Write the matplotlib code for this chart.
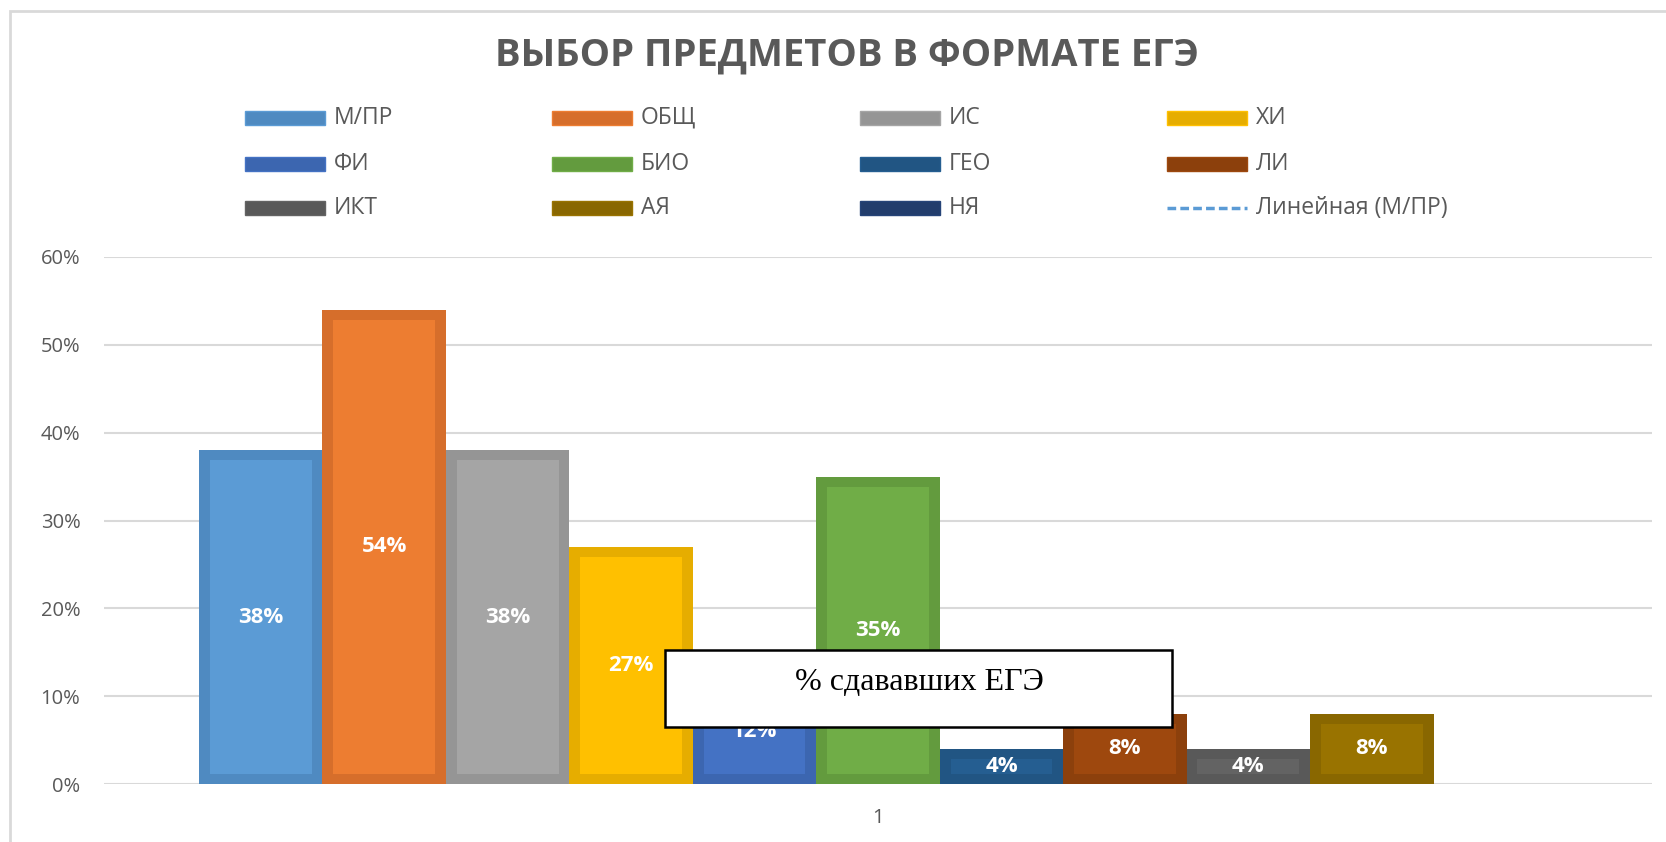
import numpy as np
import matplotlib
matplotlib.use("Agg")
import matplotlib.pyplot as plt
from matplotlib.patches import Rectangle
from matplotlib.lines import Line2D

# данные
subjects = ["М/ПР", "ОБЩ", "ИС", "ХИ", "ФИ", "БИО", "ГЕО", "ЛИ", "ИКТ", "АЯ", "НЯ"]
shares = [0.38, 0.54, 0.38, 0.27, 0.12, 0.35, 0.04, 0.08, 0.04, 0.08, 0.0]
fill_colors = ["#5B9BD5", "#ED7D31", "#A5A5A5", "#FFC000", "#4472C4", "#70AD47",
               "#255E91", "#9E480E", "#636363", "#997300", "#264478"]
edge_colors = ["#4F8AC1", "#D66E2B", "#959595", "#E6AD00", "#3C66B0", "#639B3E",
               "#215583", "#8C400C", "#595959", "#896700", "#223D6C"]
trend_label = "Линейная (М/ПР)"
category = "1"
yticks = [0, 0.1, 0.2, 0.3, 0.4, 0.5, 0.6]

W, H = 1666, 842
fig = plt.figure(figsize=(W / 100, H / 100), dpi=100)
fig.patch.set_facecolor("white")

# рамка диаграммы
fig.add_artist(Rectangle((10 / W, -0.1), 1.2, 1.1 - 11 / H, transform=fig.transFigure,
                         fill=False, edgecolor="#D9D9D9", linewidth=2))

ax = fig.add_axes([104 / W, 1 - 784 / H, (1652 - 104) / W, (784 - 257) / H])
x = np.arange(len(subjects))

bw = 0.088   # толщина рамки столбца (по x)
bh = 0.0115  # толщина рамки столбца (по y)
for i in range(len(subjects)):
    v = shares[i]
    if v <= 0:
        continue
    ax.bar(x[i], v, width=1, color=edge_colors[i], zorder=2)
    ax.bar(x[i], max(v - 2 * bh, 0), width=1 - 2 * bw, bottom=bh,
           color=fill_colors[i], zorder=3)
    ax.text(x[i], v / 2, f"{v:.0%}", ha="center", va="center", color="white",
            fontsize=16, fontweight="bold", family="Open Sans", zorder=4)

ax.set_xlim(5 - 6.27, 5 + 6.27)
ax.set_ylim(0, 0.6)
ax.set_yticks(yticks)
ax.set_yticklabels([f"{t:.0%}" for t in yticks])
ax.set_xticks([x.mean()])
ax.set_xticklabels([category])
ax.tick_params(axis="y", length=0, pad=17, labelsize=14.5, labelcolor="#595959")
ax.tick_params(axis="x", length=0, pad=17, labelsize=14.5, labelcolor="#595959")
for lab in ax.get_xticklabels() + ax.get_yticklabels():
    lab.set_family("Open Sans")
ax.grid(axis="y", color="#D9D9D9", linewidth=1.5, zorder=0)
ax.set_axisbelow(True)
for s in ax.spines.values():
    s.set_visible(False)

# заголовок
fig.text(847 / W, 1 - 56 / H, "ВЫБОР ПРЕДМЕТОВ В ФОРМАТЕ ЕГЭ", ha="center", va="center",
         fontsize=27.5, fontweight="bold", color="#595959", family="Open Sans")

# легенда
col_x = [245, 552, 860, 1167]
row_y = [118, 164, 208]
for i, name in enumerate(subjects + [trend_label]):
    cx = col_x[i % 4]
    cy = row_y[i // 4]
    if i < len(subjects):
        fig.add_artist(Rectangle((cx / W, 1 - (cy + 7) / H), 80 / W, 14 / H,
                                 transform=fig.transFigure, facecolor=edge_colors[i],
                                 edgecolor=fill_colors[i], linewidth=1))
    else:
        fig.add_artist(Line2D([cx / W, (cx + 80) / W], [1 - cy / H, 1 - cy / H],
                              transform=fig.transFigure, color="#5B9BD5",
                              linewidth=2.5, linestyle=(0, (2.5, 1.2))))
    fig.text((cx + 89) / W, 1 - cy / H, name, ha="left", va="center",
             fontsize=16.5, color="#595959", family="Open Sans")

# надпись
fig.add_artist(Rectangle((665 / W, 1 - 727 / H), (1172 - 665) / W, (727 - 650) / H,
                         transform=fig.transFigure, facecolor="white",
                         edgecolor="black", linewidth=1.8, zorder=10))
fig.text(919 / W, 1 - 682 / H, "% сдававших ЕГЭ", ha="center", va="center",
         fontsize=23, color="black", family="Liberation Serif", zorder=11)

fig.savefig("out.png", dpi=100)
